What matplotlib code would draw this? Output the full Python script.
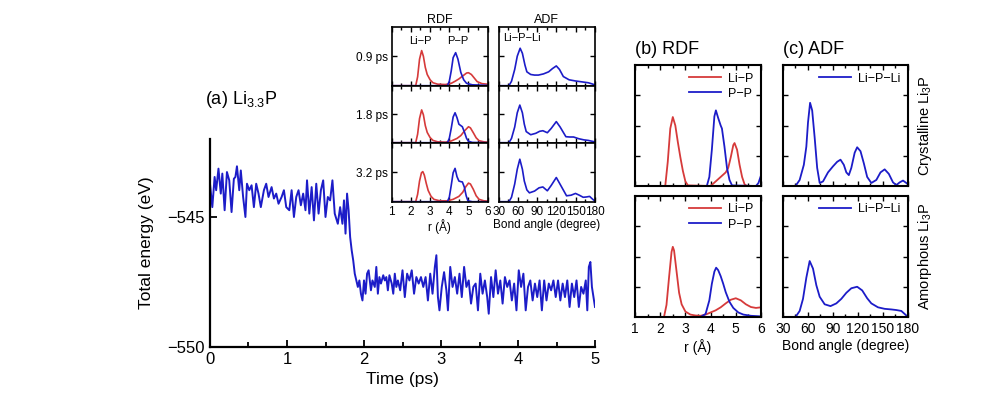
import numpy as np
import matplotlib
matplotlib.use("Agg")
import matplotlib.pyplot as plt
from matplotlib.ticker import MultipleLocator

plt.rcParams['font.family'] = ['Liberation Sans', 'DejaVu Sans']
plt.rcParams['mathtext.default'] = 'regular'
plt.rcParams['axes.unicode_minus'] = True

RED = '#d63a3a'
BLUE = '#1c1cc8'

# ---- (a) total energy trace ----
time_ps = [0.00, 0.03, 0.06, 0.08, 0.11, 0.14, 0.16, 0.19, 0.22, 0.25, 0.28, 0.31, 0.33, 0.35,
           0.38, 0.40, 0.43, 0.46, 0.48, 0.51, 0.54, 0.57, 0.60, 0.63, 0.66, 0.70, 0.73, 0.76,
           0.80, 0.83, 0.86, 0.89, 0.93, 0.96, 0.99, 1.03, 1.06, 1.09, 1.12, 1.15, 1.18, 1.21,
           1.24, 1.26, 1.29, 1.32, 1.35, 1.38, 1.41, 1.44, 1.47, 1.50, 1.53, 1.56, 1.59, 1.62,
           1.66, 1.69, 1.72, 1.74, 1.76, 1.78, 1.80, 1.82, 1.84, 1.86, 1.88, 1.90, 1.92, 1.94,
           1.96, 1.98, 2.00, 2.02, 2.04, 2.06, 2.09, 2.11, 2.14, 2.16, 2.18, 2.20, 2.22, 2.25,
           2.27, 2.29, 2.31, 2.33, 2.36, 2.38, 2.40, 2.42, 2.44, 2.47, 2.50, 2.53, 2.56, 2.59,
           2.62, 2.65, 2.68, 2.71, 2.74, 2.77, 2.80, 2.83, 2.86, 2.89, 2.92, 2.94, 2.96, 2.98,
           3.01, 3.04, 3.07, 3.09, 3.12, 3.15, 3.18, 3.21, 3.24, 3.27, 3.30, 3.33, 3.36, 3.39,
           3.42, 3.45, 3.48, 3.51, 3.54, 3.57, 3.60, 3.62, 3.65, 3.68, 3.71, 3.74, 3.77, 3.80,
           3.83, 3.86, 3.89, 3.92, 3.95, 3.98, 4.01, 4.04, 4.07, 4.10, 4.13, 4.16, 4.19, 4.22,
           4.25, 4.28, 4.31, 4.34, 4.37, 4.40, 4.43, 4.46, 4.49, 4.52, 4.55, 4.58, 4.61, 4.64,
           4.67, 4.70, 4.73, 4.76, 4.79, 4.82, 4.85, 4.88, 4.90, 4.92, 4.94, 4.96, 4.98, 5.00]
energy_ev = [-543.72, -544.62, -543.46, -543.97, -543.14, -544.10, -543.33, -544.74, -543.27,
             -543.59, -544.81, -543.53, -543.46, -543.05, -543.97, -543.21, -544.23, -545.00,
             -543.72, -543.97, -543.78, -544.62, -543.72, -544.10, -544.62, -543.97, -543.72,
             -544.23, -543.85, -544.29, -544.10, -544.49, -544.23, -543.97, -544.62, -544.74,
             -543.97, -545.00, -544.23, -543.97, -544.55, -544.10, -544.74, -543.59, -544.87,
             -543.85, -545.13, -543.72, -544.87, -543.97, -543.59, -545.00, -544.23, -544.36,
             -543.59, -544.87, -545.26, -544.62, -545.26, -544.36, -545.64, -544.10, -544.74,
             -545.77, -546.28, -546.67, -547.18, -547.44, -547.69, -547.44, -547.95, -548.21,
             -547.44, -547.95, -547.18, -547.05, -547.82, -547.44, -547.69, -546.92, -547.95,
             -547.31, -547.56, -547.24, -547.44, -547.31, -547.82, -547.24, -547.56, -547.95,
             -547.18, -547.69, -547.44, -547.82, -547.05, -548.08, -547.18, -547.44, -547.05,
             -547.95, -547.31, -547.56, -547.31, -547.69, -547.31, -548.21, -547.18, -547.95,
             -546.92, -546.47, -548.08, -548.59, -547.69, -547.12, -547.82, -548.59, -546.92,
             -547.69, -547.31, -547.95, -547.18, -548.08, -546.92, -547.69, -547.44, -548.33,
             -547.69, -547.56, -548.59, -547.18, -547.95, -547.44, -548.08, -548.72, -547.31,
             -548.08, -547.05, -547.95, -547.44, -548.33, -547.31, -547.69, -547.44, -548.21,
             -547.56, -548.59, -547.05, -547.69, -547.18, -548.59, -547.69, -547.44, -548.21,
             -547.56, -548.08, -547.44, -548.59, -547.44, -548.21, -547.56, -547.82, -547.44,
             -548.08, -547.44, -548.21, -547.56, -548.08, -547.44, -548.46, -547.56, -548.08,
             -547.44, -548.46, -547.69, -547.95, -547.44, -548.59, -546.92, -546.73, -547.69,
             -548.08, -548.46]

# ---- inset RDF snapshots (0.9, 1.8, 3.2 ps) ----
snap_labels = ['0.9 ps', '1.8 ps', '3.2 ps']
ins_lip_r = [[1, 2.25, 2.35, 2.45, 2.56, 2.65, 2.75, 2.85, 3.0, 3.15, 3.4, 3.8, 4.1, 4.3, 4.5,
              4.7, 4.9, 5.0, 5.15, 5.3, 5.45, 5.7, 6.0],
             [1, 2.25, 2.35, 2.45, 2.56, 2.65, 2.75, 2.85, 3.0, 3.15, 3.4, 3.8, 4.1, 4.4, 4.6,
              4.8, 5.0, 5.1, 5.25, 5.4, 5.55, 5.8, 6.0],
             [1, 2.25, 2.35, 2.45, 2.55, 2.62, 2.7, 2.8, 2.9, 3.05, 3.2, 3.5, 3.9, 4.2, 4.5,
              4.7, 4.85, 5.0, 5.1, 5.25, 5.4, 5.55, 5.8, 6.0]]
ins_lip_g = [[0, 0, 0.3, 0.9, 1.19, 1.0, 0.62, 0.38, 0.2, 0.1, 0.05, 0.04, 0.08, 0.15, 0.23,
              0.33, 0.43, 0.44, 0.38, 0.26, 0.14, 0.07, 0.05],
             [0, 0, 0.3, 0.85, 1.15, 0.98, 0.6, 0.36, 0.18, 0.08, 0.03, 0.02, 0.06, 0.15, 0.25,
              0.42, 0.56, 0.52, 0.35, 0.17, 0.07, 0.03, 0.02],
             [0, 0, 0.25, 0.7, 0.98, 1.02, 0.9, 0.62, 0.38, 0.18, 0.08, 0.03, 0.03, 0.08, 0.18,
              0.32, 0.5, 0.63, 0.6, 0.42, 0.2, 0.08, 0.03, 0.02]]
ins_pp_r = [[1, 3.9, 4.0, 4.1, 4.2, 4.33, 4.45, 4.6, 4.75, 4.9, 5.2, 6.0],
            [1, 3.9, 4.0, 4.1, 4.2, 4.3, 4.4, 4.5, 4.6, 4.68, 4.8, 4.9, 5.0, 5.2, 6.0],
            [1, 3.9, 4.0, 4.1, 4.2, 4.3, 4.4, 4.5, 4.6, 4.68, 4.78, 4.88, 4.97, 5.2, 6.0]]
ins_pp_g = [[0, 0, 0.15, 0.5, 0.95, 1.12, 0.9, 0.45, 0.2, 0.08, 0.03, 0.01],
            [0, 0, 0.15, 0.5, 0.9, 1.05, 0.88, 0.65, 0.6, 0.56, 0.35, 0.15, 0.05, 0.01, 0],
            [0, 0, 0.15, 0.55, 0.98, 1.13, 0.85, 0.7, 0.68, 0.67, 0.5, 0.2, 0.03, 0.0, 0]]

# ---- inset ADF snapshots ----
ins_adf_a = [[30, 46, 50, 55, 59, 63.5, 67, 71, 74, 80, 86, 92, 100, 108, 114, 120, 125, 131,
              140, 150, 160, 170, 176, 180],
             [30, 46, 50, 55, 59, 63, 67, 70, 73, 80, 88, 94, 99, 106, 112, 120, 126, 135, 141,
              147, 155, 163, 170, 176, 180],
             [30, 46, 50, 55, 59, 63, 67, 70, 74, 78, 86, 93, 99, 106, 112, 120, 127, 136, 143,
              150, 156, 162, 167, 172, 177, 180]]
ins_adf_p = [[0, 0, 0.15, 0.55, 1.0, 1.27, 1.1, 0.7, 0.47, 0.38, 0.36, 0.36, 0.4, 0.47, 0.58,
              0.67, 0.55, 0.31, 0.2, 0.16, 0.13, 0.1, 0.06, 0.03],
             [0, 0, 0.15, 0.55, 1.05, 1.32, 1.05, 0.65, 0.39, 0.28, 0.33, 0.4, 0.42, 0.35, 0.5,
              0.74, 0.55, 0.21, 0.2, 0.2, 0.14, 0.1, 0.08, 0.05, 0.03],
             [0, 0, 0.15, 0.6, 1.1, 1.44, 1.1, 0.7, 0.4, 0.3, 0.36, 0.47, 0.5, 0.37, 0.55, 0.82,
              0.55, 0.2, 0.22, 0.28, 0.22, 0.15, 0.16, 0.18, 0.08, 0.03]]

# ---- (b) RDF crystalline / amorphous Li3P ----
cry_lip_r = [1.0, 2.2, 2.3, 2.4, 2.5, 2.6, 2.7, 2.8, 2.9, 3.0, 3.1, 4.0, 4.2, 4.4, 4.6, 4.7,
             4.8, 4.9, 4.95, 5.05, 5.15, 5.25, 5.35, 5.45, 6.0]
cry_lip_g = [0, 0, 0.8, 1.9, 2.28, 2.0, 1.45, 0.95, 0.5, 0.15, 0.02, 0, 0.15, 0.3, 0.45, 0.6,
             0.95, 1.35, 1.42, 1.2, 0.7, 0.3, 0.05, 0, 0]
cry_pp_r = [1.0, 3.85, 3.95, 4.05, 4.15, 4.21, 4.3, 4.4, 4.45, 4.55, 4.65, 4.75, 4.85, 5.8,
            5.9, 6.0]
cry_pp_g = [0, 0, 0.3, 1.2, 2.3, 2.5, 2.25, 2.0, 1.9, 1.3, 0.6, 0.2, 0.02, 0, 0.1, 0.35]
amo_lip_r = [1, 2.15, 2.25, 2.35, 2.45, 2.5, 2.55, 2.65, 2.75, 2.85, 3.0, 3.2, 3.4, 3.6, 3.8,
             4.0, 4.2, 4.4, 4.6, 4.8, 5.0, 5.2, 5.4, 5.6, 5.8, 6.0]
amo_lip_g = [0, 0, 0.4, 1.3, 2.15, 2.32, 2.2, 1.5, 0.8, 0.42, 0.18, 0.08, 0.05, 0.04, 0.08,
             0.15, 0.22, 0.32, 0.45, 0.57, 0.62, 0.55, 0.42, 0.33, 0.3, 0.32]
amo_pp_r = [1, 3.6, 3.8, 3.95, 4.05, 4.15, 4.22, 4.3, 4.4, 4.5, 4.6, 4.75, 4.9, 5.1, 5.3, 5.6, 6.0]
amo_pp_g = [0, 0, 0.1, 0.55, 1.1, 1.5, 1.63, 1.55, 1.35, 1.1, 0.82, 0.5, 0.3, 0.15, 0.08, 0.04, 0.02]

# ---- (c) ADF crystalline / amorphous Li3P ----
cry_adf_a = [30, 45, 50, 55, 58, 60, 62.5, 65, 68, 71, 74, 78, 84, 90, 95, 99, 103, 106, 109,
             112, 116, 119, 123, 127, 131, 136, 142, 147, 152, 157, 162, 166, 170, 174, 178, 180]
cry_adf_p = [0, 0, 0.2, 0.7, 1.3, 2.1, 2.75, 2.5, 1.6, 0.6, 0.1, 0.15, 0.45, 0.65, 0.8, 0.87,
             0.7, 0.45, 0.36, 0.6, 1.1, 1.28, 1.15, 0.75, 0.3, 0.1, 0.2, 0.45, 0.55, 0.4, 0.12,
             0.03, 0.12, 0.18, 0.1, 0.05]
amo_adf_a = [30, 45, 50, 54, 58, 62, 66, 70, 74, 80, 87, 94, 100, 106, 112, 119, 125, 131, 136,
             144, 152, 160, 166, 172, 176, 180]
amo_adf_p = [0, 0, 0.2, 0.6, 1.3, 1.85, 1.6, 1.05, 0.67, 0.42, 0.36, 0.45, 0.6, 0.8, 0.95, 1.0,
             0.88, 0.62, 0.45, 0.32, 0.27, 0.25, 0.23, 0.2, 0.1, 0.0]

r_ticks = [1, 2, 3, 4, 5, 6]
angle_ticks = [30, 60, 90, 120, 150, 180]

W, H = 995, 416
fig = plt.figure(figsize=(W / 100, H / 100), dpi=100)


def px_axes(l, t, r, b):
    return fig.add_axes([l / W, 1 - b / H, (r - l) / W, (b - t) / H])


def box_style(ax, lw=1.3):
    for s in ax.spines.values():
        s.set_linewidth(lw)
    ax.tick_params(which='both', direction='in', top=True, right=True, width=1.0)
    ax.tick_params(which='major', length=3.5)
    ax.tick_params(which='minor', length=2.5)


# main energy plot
ax = px_axes(210, 139, 595, 347)
ax.plot(time_ps, energy_ev, color=BLUE, lw=1.4)
ax.set_xlim(0, 5)
ax.set_ylim(-550, -542)
ax.spines['top'].set_visible(False)
ax.spines['right'].set_visible(False)
ax.spines['left'].set_linewidth(1.6)
ax.spines['bottom'].set_linewidth(1.6)
ax.set_xticks([0, 1, 2, 3, 4, 5])
ax.xaxis.set_minor_locator(MultipleLocator(0.5))
ax.set_yticks([-545, -550])
ax.tick_params(which='both', direction='in', labelsize=12, width=1.3)
ax.tick_params(which='major', length=5)
ax.tick_params(which='minor', length=3.5)
ax.set_xlabel('Time (ps)', fontsize=12.5)
ax.set_ylabel('Total energy (eV)', fontsize=12.5, labelpad=10)
fig.text(205 / W, 1 - 100 / H, '(a) Li$_{3.3}$P', fontsize=13, va='center', ha='left')

# inset snapshots
rows = [(26.7, 85.7), (85.7, 142.7), (142.7, 201.7)]
for i, (t, b) in enumerate(rows):
    ar = px_axes(391.7, t, 487.7, b)
    ar.plot(ins_lip_r[i], ins_lip_g[i], color=RED, lw=1.2)
    ar.plot(ins_pp_r[i], ins_pp_g[i], color=BLUE, lw=1.2)
    ar.set_xlim(1, 6)
    ar.set_ylim(0, 2)
    ar.set_yticks([1])
    ar.set_yticklabels([snap_labels[i]])
    ar.set_xticks(r_ticks)
    ar.xaxis.set_minor_locator(MultipleLocator(0.5))
    box_style(ar, 1.2)
    ar.tick_params(labelsize=8.5, pad=3)

    aa = px_axes(498.7, t, 594.7, b)
    aa.plot(ins_adf_a[i], ins_adf_p[i], color=BLUE, lw=1.2)
    aa.set_xlim(30, 180)
    aa.set_ylim(0, 2)
    aa.set_yticks([1])
    aa.set_yticklabels([])
    aa.set_xticks(angle_ticks)
    aa.xaxis.set_minor_locator(MultipleLocator(15))
    box_style(aa, 1.2)
    aa.tick_params(labelsize=8.5, pad=3)
    if i < 2:
        ar.set_xticklabels([])
        aa.set_xticklabels([])
    else:
        ar.set_xlabel('r (Å)', fontsize=8.5, labelpad=1)
        aa.set_xlabel('Bond angle (degree)', fontsize=8.5, labelpad=1)
    if i == 0:
        ar.set_title('RDF', fontsize=9, pad=3)
        aa.set_title('ADF', fontsize=9, pad=3)
        ar.text(2.5, 1.5, 'Li\u2212P', fontsize=8, ha='center', va='center')
        ar.text(4.45, 1.5, 'P\u2212P', fontsize=8, ha='center', va='center')
        aa.text(66, 1.62, 'Li\u2212P\u2212Li', fontsize=8, ha='center', va='center')

# (b) and (c) panels
side = ['Crystalline Li$_3$P', 'Amorphous Li$_3$P']
prow = [(65, 186), (196, 317)]
rdf_sets = [(cry_lip_r, cry_lip_g, cry_pp_r, cry_pp_g), (amo_lip_r, amo_lip_g, amo_pp_r, amo_pp_g)]
adf_sets = [(cry_adf_a, cry_adf_p), (amo_adf_a, amo_adf_p)]
for i, (t, b) in enumerate(prow):
    ab = px_axes(635, t, 761, b)
    lr, lg, pr, pg = rdf_sets[i]
    ab.plot(lr, lg, color=RED, lw=1.3, label='Li\u2212P')
    ab.plot(pr, pg, color=BLUE, lw=1.3, label='P\u2212P')
    ab.set_xlim(1, 6)
    ab.set_ylim(0, 4)
    ab.set_yticks([1, 2, 3])
    ab.set_yticklabels([])
    ab.set_xticks(r_ticks)
    ab.xaxis.set_minor_locator(MultipleLocator(0.5))
    box_style(ab, 1.5)
    ab.tick_params(labelsize=10)
    ab.legend(loc='upper right', frameon=False, fontsize=9, handlelength=2.5,
              borderaxespad=0.2, labelspacing=0.25, handletextpad=0.6)

    ac = px_axes(783, t, 908, b)
    ac.plot(adf_sets[i][0], adf_sets[i][1], color=BLUE, lw=1.3, label='Li\u2212P\u2212Li')
    ac.set_xlim(30, 180)
    ac.set_ylim(0, 4)
    ac.set_yticks([1, 2, 3])
    ac.set_yticklabels([])
    ac.set_xticks(angle_ticks)
    ac.xaxis.set_minor_locator(MultipleLocator(15))
    box_style(ac, 1.5)
    ac.tick_params(labelsize=10)
    ac.legend(loc='upper right', frameon=False, fontsize=9, handlelength=2.5,
              borderaxespad=0.2, handletextpad=0.6)
    fig.text(925 / W, 1 - (t + b) / 2 / H, side[i], rotation=90, fontsize=10.5,
             ha='center', va='center')
    if i == 0:
        ab.set_xticklabels([])
        ac.set_xticklabels([])
        ab.set_title('(b) RDF', fontsize=13, loc='left', pad=8)
        ac.set_title('(c) ADF', fontsize=13, loc='left', pad=8)
    else:
        ab.set_xlabel('r (Å)', fontsize=10, labelpad=2)
        ac.set_xlabel('Bond angle (degree)', fontsize=10, labelpad=2)

fig.savefig('out.png', dpi=100)
